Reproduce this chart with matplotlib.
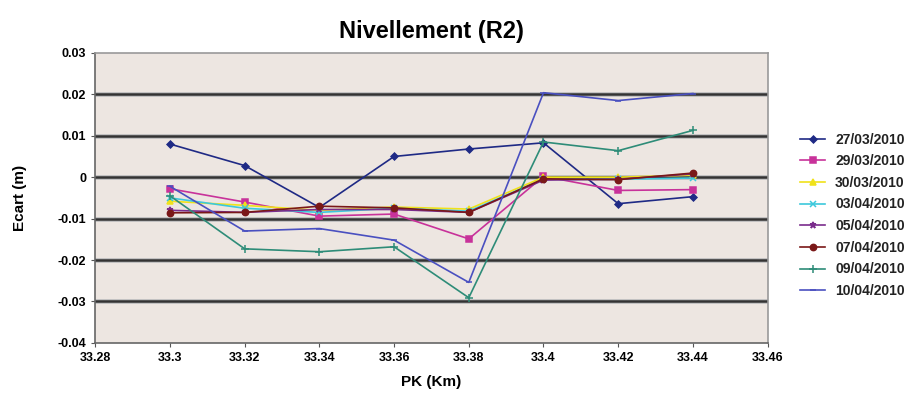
import matplotlib
matplotlib.use("Agg")
import matplotlib.pyplot as plt

plt.rcParams['font.family'] = ['Liberation Sans', 'DejaVu Sans']

pk = [33.3, 33.32, 33.34, 33.36, 33.38, 33.4, 33.42, 33.44]

s_2703 = [0.008, 0.0028, -0.0073, 0.005, 0.0068, 0.0083, -0.0064, -0.0047]
s_2903 = [-0.0028, -0.006, -0.0094, -0.0089, -0.0149, 0.0002, -0.0032, -0.003]
s_3003 = [-0.0058, -0.0068, -0.008, -0.0072, -0.0077, 0.0, 0.0, 0.0005]
s_0304 = [-0.005, -0.0075, -0.0085, -0.0075, -0.0082, -0.0005, -0.0005, -0.0002]
s_0504 = [-0.008, -0.0085, -0.0078, -0.0078, -0.0085, -0.0007, -0.0005, 0.0008]
s_0704 = [-0.0086, -0.0085, -0.007, -0.0074, -0.0085, -0.0004, -0.0006, 0.001]
s_0904 = [-0.0045, -0.0173, -0.018, -0.0168, -0.0291, 0.0085, 0.0064, 0.0113]
s_1004 = [-0.0022, -0.013, -0.0124, -0.0152, -0.0254, 0.0204, 0.0185, 0.0202]

labels = ['27/03/2010', '29/03/2010', '30/03/2010', '03/04/2010',
          '05/04/2010', '07/04/2010', '09/04/2010', '10/04/2010']
series = [s_2703, s_2903, s_3003, s_0304, s_0504, s_0704, s_0904, s_1004]
colors = ['#1f2a85', '#c8329a', '#f0e21a', '#3cc8dc', '#7a2c8c', '#7a1818', '#2e8c78', '#4a50c0']
markers = ['D', 's', '^', 'x', '*', 'o', '+', '_']
msizes = [3.5, 4, 5, 5, 5, 4.5, 6, 4]

yticks = [0.03, 0.02, 0.01, 0, -0.01, -0.02, -0.03, -0.04]
ytick_labels = ['0.03', '0.02', '0.01', '0', '-0.01', '-0.02', '-0.03', '-0.04']
xticks = [33.28, 33.3, 33.32, 33.34, 33.36, 33.38, 33.4, 33.42, 33.44, 33.46]
xtick_labels = ['33.28', '33.3', '33.32', '33.34', '33.36', '33.38', '33.4', '33.42', '33.44', '33.46']

fig = plt.figure(figsize=(9.16, 3.95), dpi=100)
ax = fig.add_axes([0.104, 0.132, 0.734, 0.734])
ax.set_facecolor('#ede6e1')

for yv in yticks[1:-1]:
    ax.axhline(yv, color='#bdbdbd', lw=3.4, zorder=1)
    ax.axhline(yv, color='#333333', lw=1.8, zorder=1)

for s, lab, c, m, ms in zip(series, labels, colors, markers, msizes):
    ax.plot(pk, s, color=c, marker=m, markersize=ms, lw=1.2, label=lab, zorder=3,
            markeredgewidth=1.1)

ax.set_xlim(33.28, 33.46)
ax.set_ylim(-0.04, 0.03)
ax.set_yticks(yticks)
ax.set_yticklabels(ytick_labels, fontsize=9, fontweight='bold')
ax.set_xticks(xticks)
ax.set_xticklabels(xtick_labels, fontsize=9, fontweight='bold')
ax.tick_params(length=3, color='#555555')

for sp in ax.spines.values():
    sp.set_color('#999999')
    sp.set_linewidth(1.2)
ax.spines['left'].set_color('#666666')
ax.spines['bottom'].set_color('#666666')

ax.set_title('Nivellement (R2)', fontsize=17, fontweight='bold', pad=11)
ax.set_ylabel('Ecart (m)', fontsize=11, fontweight='bold', labelpad=22)
ax.set_xlabel('PK (Km)', fontsize=11, fontweight='bold', labelpad=8)

leg = ax.legend(loc='center left', bbox_to_anchor=(1.03, 0.44), frameon=False,
                fontsize=10, handlelength=1.8, handletextpad=0.7, labelspacing=0.55)
for t in leg.get_texts():
    t.set_fontweight('bold')
    t.set_color('#222222')

fig.savefig('out.png', dpi=100)
